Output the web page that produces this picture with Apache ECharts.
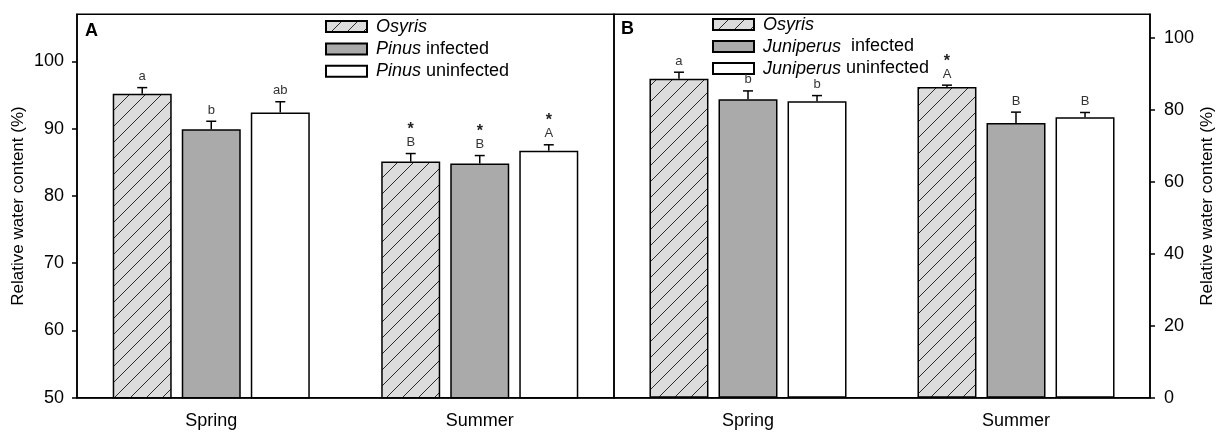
<!DOCTYPE html>
<html>
<head>
<meta charset="utf-8">
<script src="https://cdn.jsdelivr.net/npm/echarts@6/dist/echarts.min.js"></script>
<style>
html,body{margin:0;padding:0;background:#fff;}
#chart{width:1221px;height:433px;}
</style>
</head>
<body>
<div id="chart"></div>
<script>
// ---- data ----
const seasons = ['Spring', 'Summer'];
const leftTicks = [50, 60, 70, 80, 90, 100];
const rightTicks = [0, 20, 40, 60, 80, 100];

// Panel A
const osyrisA = [95.2, 85.1];
const osyrisAErr = [0.9, 1.2];
const osyrisALabels = ['a', '*\nB'];
const pinusInf = [89.9, 84.8];
const pinusInfErr = [1.2, 1.2];
const pinusInfLabels = ['b', '*\nB'];
const pinusUninf = [92.4, 86.7];
const pinusUninfErr = [1.6, 0.9];
const pinusUninfLabels = ['ab', '*\nA'];

// Panel B
const osyrisB = [88.7, 86.4];
const osyrisBErr = [1.8, 0.5];
const osyrisBLabels = ['a', '*\nA'];
const junInf = [83.0, 76.4];
const junInfErr = [2.3, 3.0];
const junInfLabels = ['b', 'B'];
const junUninf = [82.4, 78.0];
const junUninfErr = [1.6, 1.3];
const junUninfLabels = ['b', 'B'];

const namesA = ['Osyris', 'Pinus infected', 'Pinus uninfected'];
const namesB = ['Osyris (B)', 'Juniperus infected', 'Juniperus uninfected'];
const legendText = {
  'Osyris': '{i|Osyris}',
  'Pinus infected': '{i|Pinus} infected',
  'Pinus uninfected': '{i|Pinus} uninfected',
  'Osyris (B)': '{i|Osyris}',
  'Juniperus infected': '{i|Juniperus}  infected',
  'Juniperus uninfected': '{i|Juniperus} uninfected'
};

// ---- styles ----
const FONT = 'Liberation Sans, Arial, sans-serif';
const BAR_W = 59;
const GAP = 0.17;

function hatchPattern() {
  const c = document.createElement('canvas');
  c.width = 16; c.height = 16;
  const g = c.getContext('2d');
  g.fillStyle = '#dcdcdc';
  g.fillRect(0, 0, 16, 16);
  g.strokeStyle = '#2a2a2a';
  g.lineWidth = 1;
  g.beginPath();
  g.moveTo(0, 16); g.lineTo(16, 0);
  g.moveTo(-4, 4); g.lineTo(4, -4);
  g.moveTo(12, 20); g.lineTo(20, 12);
  g.stroke();
  return c;
}
const hatch = { image: hatchPattern(), repeat: 'repeat' };
const fills = [hatch, '#aaaaaa', '#ffffff'];

function barSeries(name, values, idx, axis) {
  return {
    name: name, type: 'bar', xAxisIndex: axis, yAxisIndex: axis,
    data: values, barWidth: BAR_W, barGap: (GAP * 100) + '%',
    itemStyle: { color: fills[idx], borderColor: '#000', borderWidth: 1.5 },
    emphasis: { disabled: true }, z: 2
  };
}

function errSeries(values, errs, labels, idx, axis) {
  return {
    type: 'custom', xAxisIndex: axis, yAxisIndex: axis, z: 5,
    data: values.map((v, i) => [i, v, errs[i]]),
    encode: { x: 0, y: 1 },
    silent: true,
    renderItem: function (params, api) {
      const cat = api.value(0), v = api.value(1), e = api.value(2);
      const base = api.coord([cat, v]);
      const top = api.coord([cat, v + e]);
      const off = (idx - 1) * (BAR_W * (1 + GAP));
      const x = base[0] + off;
      const lab = labels[params.dataIndex];
      const parts = lab.split('\n');
      const txt = parts.length > 1 ? '{s|' + parts[0] + '}\n{l|' + parts[1] + '}' : '{l|' + parts[0] + '}';
      return {
        type: 'group',
        children: [
          { type: 'line', shape: { x1: x, y1: base[1], x2: x, y2: top[1] }, style: { stroke: '#000', lineWidth: 1.5 } },
          { type: 'line', shape: { x1: x - 5, y1: top[1], x2: x + 5, y2: top[1] }, style: { stroke: '#000', lineWidth: 1.5 } },
          { type: 'text', x: x, y: top[1] - 4,
            style: {
              text: txt, align: 'center', verticalAlign: 'bottom',
              rich: {
                s: { fontSize: 16, fontWeight: 'bold', fill: '#222', lineHeight: 12, fontFamily: FONT, align: 'center' },
                l: { fontSize: 13, fill: '#333', lineHeight: 14, fontFamily: FONT, align: 'center' }
              }
            } }
        ]
      };
    }
  };
}

function legendCfg(names, left, top, gap) {
  return {
    data: names, orient: 'vertical', left: left, top: top, padding: 0,
    itemWidth: 41, itemHeight: 11, itemGap: gap, selectedMode: false,
    icon: 'rect',
    formatter: n => legendText[n],
    textStyle: {
      fontSize: 18, color: '#000', fontFamily: FONT, lineHeight: 18, padding: [0, 0, 0, 4],
      rich: { i: { fontSize: 18, fontStyle: 'italic', color: '#000', fontFamily: FONT, lineHeight: 18 } }
    }
  };
}

const axisLineStyle = { color: '#000', width: 1.5 };

function xAxisCfg(grid) {
  return {
    gridIndex: grid, type: 'category', data: seasons,
    axisLine: { lineStyle: axisLineStyle },
    axisTick: { alignWithLabel: true, length: 6, lineStyle: axisLineStyle },
    axisLabel: { fontSize: 18, color: '#000', margin: 14, fontFamily: FONT },
    splitLine: { show: false }
  };
}

const option = {
  animation: false,
  backgroundColor: '#fff',
  grid: [
    { left: 77, right: 607, top: 14.3, bottom: 35.3, show: true, borderColor: '#000', borderWidth: 1.5, backgroundColor: 'transparent' },
    { left: 614, right: 71, top: 14.3, bottom: 35.3, show: true, borderColor: '#000', borderWidth: 1.5, backgroundColor: 'transparent' }
  ],
  legend: [
    legendCfg(namesA, 325, 17.5, 4.4),
    legendCfg(namesB, 712, 15.5, 4)
  ],
  xAxis: [xAxisCfg(0), xAxisCfg(1)],
  yAxis: [
    {
      gridIndex: 0, type: 'value', min: 50, max: 107, interval: 10,
      axisLine: { show: true, lineStyle: axisLineStyle },
      axisTick: { show: true, length: 5, lineStyle: axisLineStyle, customValues: leftTicks },
      axisLabel: { fontSize: 18, color: '#000', margin: 13, fontFamily: FONT, customValues: leftTicks },
      splitLine: { show: false },
      name: 'Relative water content (%)', nameLocation: 'middle', nameRotate: 90, nameGap: 50,
      nameTextStyle: { fontSize: 17, color: '#000', fontFamily: FONT }
    },
    {
      gridIndex: 1, type: 'value', position: 'right', min: 0, max: 106.6, interval: 20,
      axisLine: { show: true, lineStyle: axisLineStyle },
      axisTick: { show: true, length: 5, lineStyle: axisLineStyle, customValues: rightTicks },
      axisLabel: { fontSize: 18, color: '#000', margin: 14, fontFamily: FONT, customValues: rightTicks },
      splitLine: { show: false },
      name: 'Relative water content (%)', nameLocation: 'middle', nameRotate: 90, nameGap: 49,
      nameTextStyle: { fontSize: 17, color: '#000', fontFamily: FONT }
    }
  ],
  graphic: [
    { type: 'text', left: 85, top: 22, style: { text: 'A', fontSize: 18, fontWeight: 'bold', fill: '#000', fontFamily: FONT } },
    { type: 'text', left: 621, top: 20, style: { text: 'B', fontSize: 18, fontWeight: 'bold', fill: '#000', fontFamily: FONT } }
  ],
  series: [
    barSeries(namesA[0], osyrisA, 0, 0),
    barSeries(namesA[1], pinusInf, 1, 0),
    barSeries(namesA[2], pinusUninf, 2, 0),
    barSeries(namesB[0], osyrisB, 0, 1),
    barSeries(namesB[1], junInf, 1, 1),
    barSeries(namesB[2], junUninf, 2, 1),
    errSeries(osyrisA, osyrisAErr, osyrisALabels, 0, 0),
    errSeries(pinusInf, pinusInfErr, pinusInfLabels, 1, 0),
    errSeries(pinusUninf, pinusUninfErr, pinusUninfLabels, 2, 0),
    errSeries(osyrisB, osyrisBErr, osyrisBLabels, 0, 1),
    errSeries(junInf, junInfErr, junInfLabels, 1, 1),
    errSeries(junUninf, junUninfErr, junUninfLabels, 2, 1)
  ]
};

const chart = echarts.init(document.getElementById('chart'), null, { renderer: 'canvas' });
chart.setOption(option);
</script>
</body>
</html>
